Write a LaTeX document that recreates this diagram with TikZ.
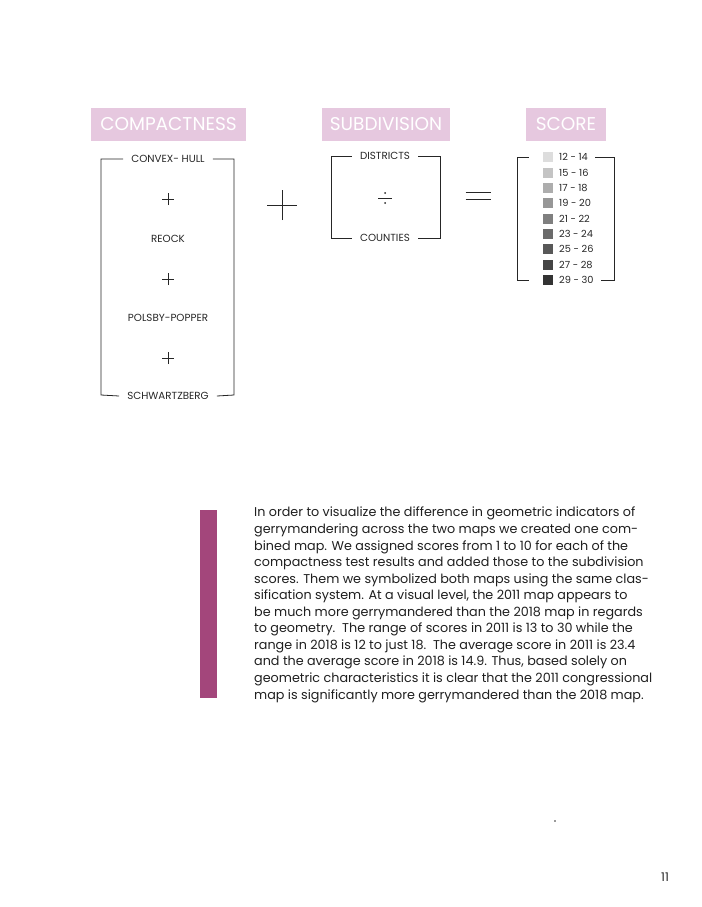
\documentclass[tikz,border=0pt]{standalone}
\usepackage{fontspec}
\setmainfont{Poppins}
\begin{document}
\begin{tikzpicture}[x=1pt,y=-1pt,
  hdr/.style={fill=hdrpink,text=white,inner sep=0,minimum height=33,font=\fontsize{18.5}{20}\selectfont},
  lab/.style={font=\fontsize{10.3}{12}\selectfont,text=black!85,inner xsep=8,inner ysep=1},
  br/.style={line width=0.8pt,black!85},
  op/.style={line width=0.7pt,black!85},
  sq/.style={minimum size=10,inner sep=0},
  sc/.style={font=\fontsize{9.8}{11}\selectfont,text=black!85,anchor=west,inner sep=0}]
\definecolor{hdrpink}{HTML}{E6C8DF}
\definecolor{barpurple}{HTML}{A3467B}
\useasboundingbox (0,0) rectangle (701,907);
% headers
\node[hdr,minimum width=155] (hc) at (168.5,124.5) {COMPACTNESS};
\node[hdr,minimum width=128] (hs) at (386,124.5) {SUBDIVISION};
\node[hdr,minimum width=80] (hr) at (566,124.5) {SCORE};
% compactness
\node[lab] (cv) at (168,159) {CONVEX- HULL};
\node[lab] (sw) at (168,396) {SCHWARTZBERG};
\node[lab] (re) at (168,239) {REOCK};
\node[lab] (pp) at (168,318) {POLSBY-POPPER};
\draw[br] (cv.west) -- (101,159) -- (101,395) -- (sw.west);
\draw[br] (cv.east) -- (234,159) -- (234,395) -- (sw.east);
\foreach \n/\y in {p1/199,p2/279,p3/358}{
  \coordinate (\n) at (168,\y);
  \draw[op] ([xshift=-6]\n) -- ([xshift=6]\n) ([yshift=-6]\n) -- ([yshift=6]\n);
}
% big plus
\coordinate (bp) at (282,205);
\draw[op] ([xshift=-15]bp) -- ([xshift=15]bp) ([yshift=-15]bp) -- ([yshift=15]bp);
% subdivision
\node[lab] (di) at (385,156) {DISTRICTS};
\node[lab] (co) at (385,238) {COUNTIES};
\draw[br] (di.west) -- (331,156) -- (331,238) -- (co.west);
\draw[br] (di.east) -- (440,156) -- (440,238) -- (co.east);
\coordinate (dv) at (385,198);
\draw[op] ([xshift=-7]dv) -- ([xshift=7]dv);
\fill[black!85] ([yshift=-5]dv) circle (1) ([yshift=5]dv) circle (1);
% equals
\coordinate (eq) at (478,195.5);
\draw[op] ([xshift=-12.5,yshift=-3.5]eq) -- ([xshift=12.5,yshift=-3.5]eq)
          ([xshift=-12.5,yshift=3.5]eq) -- ([xshift=12.5,yshift=3.5]eq);
% score
\foreach \i/\y/\c/\t in {1/157/DDDDDD/12 - 14,2/172.5/C4C4C4/15 - 16,3/188/ADADAD/17 - 18,4/203/979797/19 - 20,5/218.5/7F7F7F/21 - 22,6/234/6B6B6B/23 - 24,7/249/585858/25 - 26,8/264.5/454545/27 - 28,9/280/333333/29 - 30}{
  \definecolor{sqc\i}{HTML}{\c}
  \node[sq,fill=sqc\i] (s\i) at (548,\y) {};
  \node[sc] (t\i) at (559,\y) {\t};
}
\draw[br] ([xshift=-14]s1.west) -- (517,157) -- (517,280) -- ([xshift=-14]s9.west);
\draw[br] ([xshift=7]t1.east) -- (614,157) -- (614,280) -- ([xshift=7]t9.east);
% paragraph
\node[fill=barpurple,minimum width=17,minimum height=188,inner sep=0,anchor=north west] (bar) at (200,510) {};
\node[anchor=north west,align=left,inner sep=0,text=black!88,font=\fontsize{12.75}{16.55}\selectfont] (txt) at (254,507) {In order to visualize the difference in geometric indicators of\\
gerrymandering across the two maps we created one com-\\
bined map. We assigned scores from 1 to 10 for each of the\\
compactness test results and added those to the subdivision\\
scores. Them we symbolized both maps using the same clas-\\
sification system. At a visual level, the 2011 map appears to\\
be much more gerrymandered than the 2018 map in regards\\
to geometry.\ \ The range of scores in 2011 is 13 to 30 while the\\
range in 2018 is 12 to just 18.\ \ The average score in 2011 is 23.4\\
and the average score in 2018 is 14.9. Thus, based solely on\\
geometric characteristics it is clear that the 2011 congressional\\
map is significantly more gerrymandered than the 2018 map.};
\fill[black!80] (555,821) circle (0.8);
\node[font=\fontsize{12}{14}\selectfont,text=black!85,inner sep=0] (pg) at (665,877) {11};
\end{tikzpicture}
\end{document}
